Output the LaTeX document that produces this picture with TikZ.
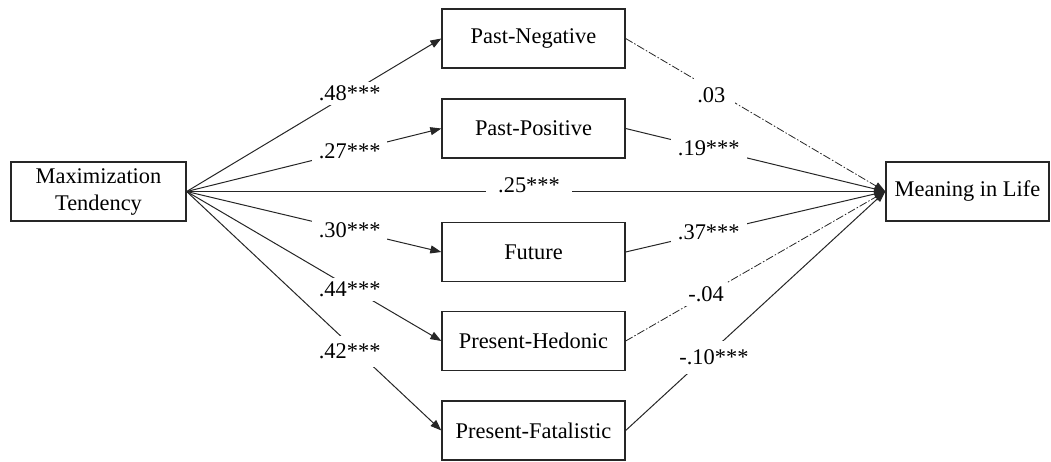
\documentclass[tikz,border=0pt]{standalone}
\usepackage{fontspec}
\setmainfont{Liberation Serif}
\usetikzlibrary{arrows.meta}
\begin{document}
\begin{tikzpicture}[x=1pt,y=-1pt,
  box/.style={draw=black!85,line width=1.3pt,minimum height=59pt,inner sep=0pt,align=center,font=\fontsize{22.4}{25}\selectfont},
  midbox/.style={box,minimum width=183pt},
  conn/.style={draw=black!85,line width=1pt,-{Triangle[length=11pt,width=8pt]}},
  dd/.style={conn,line width=0.8pt,dash pattern=on 8pt off 2pt on 1.5pt off 2pt},
  lab/.style={fill=white,inner xsep=7pt,inner ysep=4pt,font=\fontsize{22.4}{25}\selectfont}]
\useasboundingbox (0,0) rectangle (1051,461);
\node[box,minimum width=175pt] (L) at (98.5,191.5) {Maximization\\[2pt]Tendency};
\node[box,minimum width=163pt] (R) at (967.5,191.5) {Meaning in Life};
\node[midbox] (PN) at (533.5,38.5) {Past-Negative};
\node[midbox] (PP) at (533.5,128.5) {Past-Positive};
\node[midbox] (F) at (533.5,252) {Future};
\node[midbox] (PH) at (533.5,341) {Present-Hedonic};
\node[midbox] (PF) at (533.5,430.5) {Present-Fatalistic};
% left paths
\draw[conn] (L.east) -- node[lab,pos=0.64] {.48***} (PN.west);
\draw[conn] (L.east) -- node[lab,pos=0.64] {.27***} (PP.west);
\draw[conn] (L.east) -- node[lab,pos=0.64] {.30***} (F.west);
\draw[conn] (L.east) -- node[lab,pos=0.64,yshift=-2pt] {.44***} (PH.west);
\draw[conn] (L.east) -- node[lab,pos=0.64,yshift=-7pt,inner ysep=8pt] {.42***} (PF.west);
\draw[conn] (L.east) -- node[lab,pos=0.49,yshift=6pt,inner xsep=12pt] {.25***} (R.west);
% right paths
\draw[dd] (PN.east) -- node[lab,pos=0.33,yshift=-6pt,inner xsep=10pt,inner ysep=8pt] {.03} (R.west);
\draw[conn] (PP.east) -- node[lab,pos=0.32] {.19***} (R.west);
\draw[conn] (F.east) -- node[lab,pos=0.32] {.37***} (R.west);
\draw[dd] (PH.east) -- node[lab,pos=0.31] {-.04} (R.west);
\draw[conn] (PF.east) -- node[lab,pos=0.34,yshift=-8pt,inner ysep=9pt] {-.10***} (R.west);
\end{tikzpicture}
\end{document}
